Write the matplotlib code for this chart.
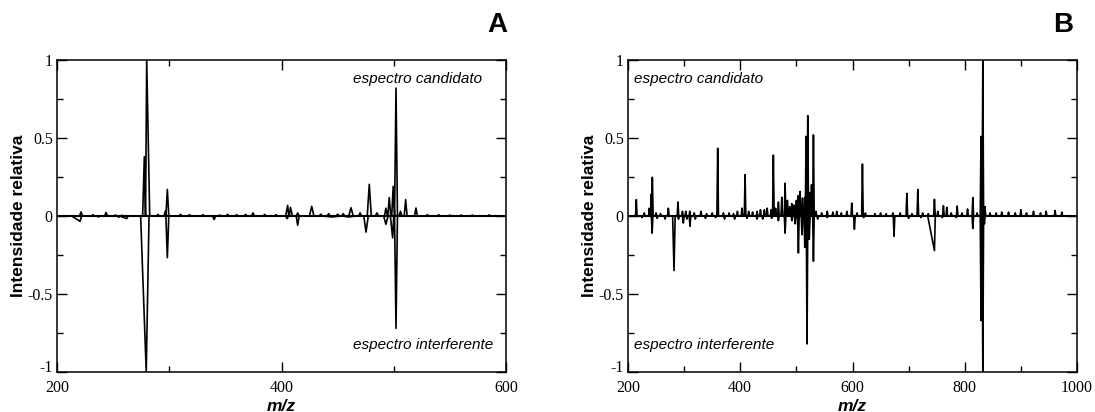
import matplotlib
matplotlib.use('Agg')
import matplotlib.pyplot as plt
import matplotlib.transforms as mtransforms
from matplotlib.ticker import MultipleLocator

plt.rcParams['axes.unicode_minus'] = False

# ---------------- data (peak m/z and relative intensity) ----------------
# Panel A
mzA_cand = [221.4, 232, 243.7, 252, 258, 277.8, 279.9, 290, 296.5, 298.3, 310, 318, 330, 345,
            352, 360, 368, 374.6, 385, 395, 405.5, 408, 414.4, 426.9, 435, 442, 450, 455,
            461.9, 470, 478.2, 485, 493, 496, 499.5, 502, 506, 510.6, 519.8, 530, 540, 550,
            560, 570, 585]
intA_cand = [0.026, 0.008, 0.023, 0.006, 0.005, 0.38, 1.0, 0.01, 0.03, 0.17, 0.01, 0.008, 0.008,
             0.006, 0.01, 0.008, 0.01, 0.02, 0.01, 0.008, 0.068, 0.055, 0.02, 0.062, 0.012, 0.015,
             0.012, 0.015, 0.053, 0.02, 0.203, 0.02, 0.05, 0.118, 0.19, 0.82, 0.03, 0.105, 0.051,
             0.008, 0.008, 0.006, 0.006, 0.006, 0.007]
mzA_intf = [220.5, 237, 255, 262, 279.5, 298.3, 340, 405, 414.4, 445, 460, 475.3, 493, 499, 502]
intA_intf = [0.034, 0.006, 0.008, 0.017, 1.0, 0.267, 0.023, 0.017, 0.06, 0.006, 0.006, 0.103,
             0.053, 0.14, 0.72]
# peak widths (m/z to the left / right of the apex) where not the default
widthA_cand = {277.8: (1.5, 1.0), 279.9: (1.0, 2.7), 478.2: (1.8, 1.8), 405.5: (1.8, 1.0),
               408: (1.0, 1.8), 426.9: (2.0, 2.0), 461.9: (2.0, 2.0)}
widthA_intf = {220.5: (7.5, 1.5), 279.5: (5.0, 2.5), 262: (6.0, 1.5), 475.3: (2.0, 2.0),
               493: (2.0, 2.0), 499: (2.0, 1.0), 445: (8.0, 8.0), 460: (6.0, 6.0)}

# Panel B
mzB_cand = [214.8, 229, 238, 241.5, 243.4, 250, 258, 271.9, 289, 297, 303, 310, 318, 330, 340,
            350, 359.8, 370, 380, 388, 395, 403, 408.6, 415, 422, 430, 436, 443, 448, 455,
            459, 463, 468, 474, 479.9, 484, 488, 491.7, 496, 500, 503, 506.6, 511, 515.5,
            517.3, 520.3, 524, 527, 530.4, 535, 545, 555, 565, 572, 580, 590, 598.7, 608,
            617.7, 623, 640, 650, 660, 672, 685, 696.8, 706, 716.4, 725, 735, 746, 752, 762,
            768, 776, 786.5, 795, 805, 814.4, 822, 829, 832.2, 836, 845, 856, 866, 878, 890,
            900, 910, 922.5, 935, 945, 961, 973]
intB_cand = [0.105, 0.02, 0.05, 0.14, 0.248, 0.02, 0.015, 0.05, 0.09, 0.03, 0.03, 0.03, 0.02,
             0.03, 0.015, 0.02, 0.434, 0.02, 0.02, 0.015, 0.03, 0.05, 0.265, 0.03, 0.025, 0.03,
             0.04, 0.04, 0.05, 0.04, 0.39, 0.05, 0.09, 0.12, 0.21, 0.1, 0.06, 0.08, 0.07, 0.1,
             0.13, 0.158, 0.115, 0.12, 0.51, 0.643, 0.15, 0.2, 0.52, 0.03, 0.02, 0.03, 0.025,
             0.03, 0.02, 0.03, 0.083, 0.02, 0.333, 0.02, 0.015, 0.02, 0.015, 0.02, 0.02, 0.145,
             0.015, 0.17, 0.02, 0.015, 0.107, 0.03, 0.066, 0.056, 0.02, 0.064, 0.02, 0.045,
             0.118, 0.02, 0.51, 1.0, 0.06, 0.02, 0.02, 0.025, 0.025, 0.02, 0.04, 0.02, 0.03,
             0.02, 0.03, 0.035, 0.025]
mzB_intf = [225, 243, 252, 266, 282, 290, 298.6, 305, 310.5, 320, 338, 356, 372, 390, 412,
            430, 440, 456, 468, 479.9, 492, 498, 503.6, 510, 515, 519, 523, 530.4, 538, 555,
            603.4, 620, 674, 700, 722, 746, 760, 785, 814.4, 829, 832.2, 835]
intB_intf = [0.01, 0.11, 0.015, 0.02, 0.35, 0.02, 0.045, 0.02, 0.066, 0.02, 0.015, 0.01, 0.02,
             0.02, 0.015, 0.02, 0.02, 0.015, 0.03, 0.11, 0.03, 0.05, 0.237, 0.12, 0.2, 0.82,
             0.15, 0.29, 0.02, 0.01, 0.085, 0.01, 0.13, 0.015, 0.01, 0.222, 0.01, 0.01, 0.08,
             0.67, 1.0, 0.05]
widthB_cand = {}
widthB_intf = {282: (2.5, 2.0), 746: (12.0, 1.5)}

xticksA = [200, 400, 600]
xticksB = [200, 400, 600, 800, 1000]
yticks = [-1, -0.5, 0, 0.5, 1]
ytick_labels = ['-1', '-0.5', '0', '0.5', '1']


def profile(mz, inten, half_width, widths, sign):
    xs, ys = [], []
    for m, v in sorted(zip(mz, inten)):
        wl, wr = widths.get(m, (half_width, half_width))
        xs += [m - wl, m, m + wr]
        ys += [0.0, sign * v, 0.0]
    return xs, ys


fig = plt.figure(figsize=(10.95, 4.12), dpi=100)
W, H = 1095.0, 412.0
axA = fig.add_axes([57 / W, 40 / H, 449 / W, 312 / H])
axB = fig.add_axes([628 / W, 40 / H, 449 / W, 312 / H])

serif = 'Liberation Serif'
sans = 'Liberation Sans'

panels = [
    (axA, mzA_cand, intA_cand, widthA_cand, mzA_intf, intA_intf, widthA_intf,
     (200, 600), xticksA, 1.3, 0.66, 'A', 497),
    (axB, mzB_cand, intB_cand, widthB_cand, mzB_intf, intB_intf, widthB_intf,
     (200, 1000), xticksB, 1.4, 0.014, 'B', 1063),
]

for (ax, mzc, ic, wc, mzi, ii, wi, xlim, xt, hw, tx, letter, lx) in panels:
    xs, ys = profile(mzc, ic, hw, wc, 1)
    ax.plot(xs, ys, color='black', lw=1.2)
    xs, ys = profile(mzi, ii, hw, wi, -1)
    ax.plot(xs, ys, color='black', lw=1.2)
    ax.axhline(0, color='black', lw=1.5)
    ax.set_xlim(*xlim)
    ax.set_ylim(-1, 1)
    ax.set_xticks(xt)
    ax.set_xticklabels([str(v) for v in xt], family=serif, fontsize=11.5)
    ax.set_yticks(yticks)
    ax.set_yticklabels(ytick_labels, family=serif, fontsize=11.5)
    ax.xaxis.set_minor_locator(MultipleLocator(100))
    ax.yaxis.set_minor_locator(MultipleLocator(0.25))
    ax.tick_params(which='both', direction='in', top=True, right=True, width=1.0)
    ax.tick_params(which='major', length=7, pad=6)
    ax.tick_params(which='minor', length=4)
    ax.tick_params(axis='y', which='major', pad=3)
    # lift the lowest y label slightly so it does not collide with the first x label
    low = ax.get_yticklabels()[0]
    low.set_transform(low.get_transform() +
                      mtransforms.ScaledTranslation(0, 4 / 72, fig.dpi_scale_trans))
    for s in ax.spines.values():
        s.set_linewidth(1.1)
    ax.set_xlabel('m/z', family=sans, fontsize=12.5, fontweight='bold', fontstyle='italic')
    ax.xaxis.set_label_coords(0.5, -0.085)
    ax.set_ylabel('Intensidade relativa', family=sans, fontsize=12.5, fontweight='bold')
    ax.yaxis.set_label_coords(-0.068, 0.5)
    ax.text(tx, 0.94, 'espectro candidato', transform=ax.transAxes, family=sans,
            fontstyle='italic', fontsize=11, va='center', ha='left')
    ax.text(tx, 0.085, 'espectro interferente', transform=ax.transAxes, family=sans,
            fontstyle='italic', fontsize=11, va='center', ha='left')
    fig.text(lx / W, 1 - 25 / H, letter, family=sans, fontsize=20, fontweight='bold',
             ha='center', va='center')

fig.savefig('out.png', dpi=100)
